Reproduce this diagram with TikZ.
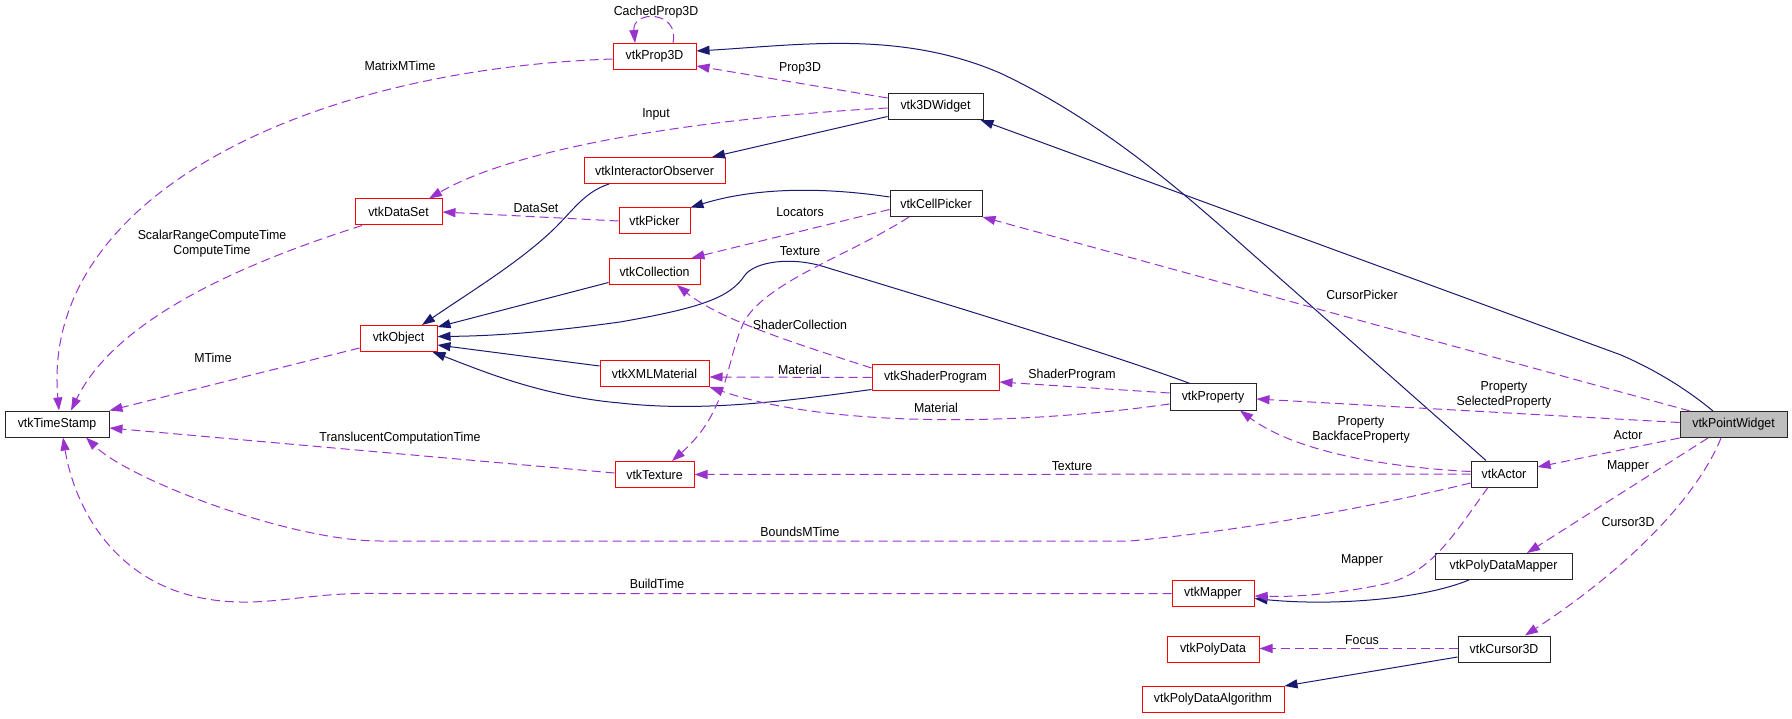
\documentclass[tikz,border=0pt]{standalone}
\usepackage{fontspec}
\setmainfont[FakeStretch=0.95]{Liberation Sans}
\usetikzlibrary{arrows.meta}
\definecolor{navyedge}{HTML}{191970}
\definecolor{orchidedge}{HTML}{9A32CD}
\definecolor{boxgray}{HTML}{BFBFBF}
\tikzset{
  cls/.style={draw, line width=1pt, minimum height=26pt, inner sep=0pt, font=\fontsize{13}{15}\selectfont, fill=white},
  redcls/.style={cls, draw=red},
  blkcls/.style={cls, draw=black!85},
  inh/.style={draw=navyedge, line width=1pt, -{Triangle[length=13pt,width=9pt]}},
  use/.style={draw=orchidedge, line width=1pt, dash pattern=on 9pt off 5pt, -{Triangle[length=13pt,width=9pt]}},
  lab/.style={font=\fontsize{13}{15}\selectfont, inner sep=0pt, align=center},
}
\begin{document}
\begin{tikzpicture}[x=1pt,y=-1pt]
\useasboundingbox (0,0) rectangle (1792,719);
% nodes
\node[redcls, minimum width=83pt] (prop3d) at (654.5,56.5) {vtkProp3D};
\node[blkcls, minimum width=95pt] (w3d) at (935.5,106.5) {vtk3DWidget};
\node[redcls, minimum width=141pt] (iobs) at (654.5,170.5) {vtkInteractorObserver};
\node[redcls, minimum width=71pt] (picker) at (654.5,221) {vtkPicker};
\node[blkcls, minimum width=92pt] (cp) at (936,203.5) {vtkCellPicker};
\node[redcls, minimum width=87pt] (dataset) at (398.5,212) {vtkDataSet};
\node[redcls, minimum width=77pt] (object) at (398.5,338.5) {vtkObject};
\node[blkcls, minimum width=104pt] (ts) at (57,424) {vtkTimeStamp};
\node[redcls, minimum width=91pt] (coll) at (654.5,271.5) {vtkCollection};
\node[redcls, minimum width=109pt] (xml) at (654.5,373.5) {vtkXMLMaterial};
\node[redcls, minimum width=127pt] (sp) at (935.5,377.5) {vtkShaderProgram};
\node[redcls, minimum width=79pt] (tex) at (654.5,474.5) {vtkTexture};
\node[blkcls, minimum width=86pt] (prop) at (1213,397) {vtkProperty};
\node[blkcls, fill=boxgray, minimum width=107pt] (pw) at (1733.5,424.5) {vtkPointWidget};
\node[blkcls, minimum width=66pt] (actor) at (1504,474) {vtkActor};
\node[blkcls, minimum width=137pt] (pdm) at (1503.5,566.5) {vtkPolyDataMapper};
\node[redcls, minimum width=82pt] (mapper) at (1213,593.5) {vtkMapper};
\node[redcls, minimum width=92pt] (pd) at (1213,649) {vtkPolyData};
\node[blkcls, minimum width=92pt] (cur) at (1504,649) {vtkCursor3D};
\node[redcls, minimum width=142pt] (pda) at (1213,699.5) {vtkPolyDataAlgorithm};
% inheritance edges
\draw[inh] ([xshift=-20.5pt]pw.north) .. controls (1690,392) and (1660,372) .. (1621,355) -- ([xshift=-3pt]w3d.south east);
\draw[inh] ([xshift=-18pt]actor.north) -- (1240,243) .. controls (1180,190) and (1100,120) .. (1000,73) .. controls (900,30) and (800,45) .. ([yshift=5.5pt]prop3d.east);
\draw[inh] ([yshift=-10pt]w3d.west) -- ([xshift=57.5pt]iobs.north);
\draw[inh] ([xshift=-45.5pt]iobs.south) .. controls (585,192) and (575,208) .. (555,228) .. controls (520,262) and (470,292) .. ([xshift=23.5pt]object.north);
\draw[inh] ([yshift=6.5pt]cp.west) .. controls (830,188) and (760,186) .. (picker.north east);
\draw[inh] ([yshift=2.5pt]coll.south west) -- ([yshift=-2pt]object.north east);
\draw[inh] ([xshift=-23pt]prop.north) .. controls (1100,350) and (900,290) .. (825,267) .. controls (790,256) and (755,262) .. (745,275) .. controls (730,298) and (700,308) .. (620,322) .. controls (540,333) and (490,336) .. ([yshift=2pt]object.east);
\draw[inh] ([yshift=7.5pt]xml.west) -- ([yshift=-6.5pt]object.east);
\draw[inh] ([yshift=1.5pt]sp.south west) .. controls (780,402) and (700,412) .. (620,403) .. controls (540,396) and (480,370) .. ([xshift=-5pt]object.south east);
\draw[inh] ([yshift=-8pt]cur.west) -- (pda.north east);
\draw[inh] ([xshift=-34.5pt]pdm.south) .. controls (1420,600) and (1330,606) .. ([yshift=-5pt]mapper.east);
% usage edges
\draw[use] ([xshift=18.5pt]prop3d.north) .. controls (680,10) and (632,10) .. ([xshift=-19.5pt]prop3d.north);
\draw[use] ([yshift=8.5pt]w3d.west) -- ([yshift=-9.5pt]prop3d.east);
\draw[use] ([yshift=-1.5pt]w3d.west) .. controls (750,115) and (530,140) .. ([xshift=30.5pt]dataset.north);
\draw[use] ([yshift=-2.5pt]prop3d.west) .. controls (300,70) and (40,200) .. ([xshift=2pt]ts.north);
\draw[use] ([xshift=-36.5pt]dataset.south) .. controls (270,255) and (120,310) .. ([xshift=14pt]ts.north);
\draw[use] ([yshift=-9.5pt]object.west) -- (ts.north east);
\draw[use] ([yshift=1.5pt]tex.west) -- ([yshift=-4pt]ts.east);
\draw[use] ([yshift=-9pt]actor.west) .. controls (1380,505) and (1250,530) .. (1130,541) -- (380,541) .. controls (290,541) and (130,480) .. ([xshift=29pt]ts.south);
\draw[use] (mapper.west) -- (380,593.5) .. controls (320,592) and (280,603) .. (240,602) .. controls (120,600) and (75,510) .. ([xshift=6pt]ts.south);
\draw[use] (picker.west) -- (dataset.east);
\draw[use] ([yshift=-6pt]cp.west) -- ([xshift=-9pt]coll.north east);
\draw[use] (actor.west) -- (tex.east);
\draw[use] ([xshift=-27pt]cp.south) .. controls (850,255) and (770,280) .. (745,320) .. controls (725,360) and (730,410) .. ([xshift=17.5pt]tex.north);
\draw[use] ([yshift=9.5pt]sp.west) .. controls (800,345) and (720,320) .. ([xshift=22.5pt]coll.south);
\draw[use] (sp.west) -- ([yshift=-3.5pt]xml.east);
\draw[use] ([yshift=4pt]prop.west) -- ([yshift=-4.5pt]sp.east);
\draw[use] ([yshift=-7pt]prop.west) .. controls (1000,428) and (820,425) .. (xml.south east);
\draw[use] ([xshift=-43.5pt]pw.north) -- (cp.south east);
\draw[use] ([yshift=2pt]pw.west) -- ([yshift=-2pt]prop.east);
\draw[use] ([yshift=2.5pt]actor.west) .. controls (1400,468) and (1300,455) .. ([xshift=27pt]prop.south);
\draw[use] (pw.south west) -- ([yshift=7pt]actor.east);
\draw[use] ([xshift=-25.5pt]pw.south) -- ([xshift=23.5pt]pdm.north);
\draw[use] ([xshift=-12.5pt]pw.south) .. controls (1700,490) and (1640,560) .. ([xshift=21pt]cur.north);
\draw[use] ([xshift=-16pt]actor.south) .. controls (1450,540) and (1430,575) .. (1380,585) .. controls (1330,595) and (1290,597) .. ([yshift=-2.5pt]mapper.east);
\draw[use] ([yshift=0.5pt]cur.west) -- ([yshift=0.5pt]pd.east);
% labels
\node[lab] (l1) at (656,12) {CachedProp3D};
\node[lab] (l2) at (400,66) {MatrixMTime};
\node[lab] (l3) at (800,68) {Prop3D};
\node[lab] (l4) at (656,114) {Input};
\node[lab] (l5) at (536,208) {DataSet};
\node[lab] (l6) at (800,212) {Locators};
\node[lab] (l7) at (800,251) {Texture};
\node[lab] (l8) at (212,244) {ScalarRangeComputeTime\\ComputeTime};
\node[lab] (l9) at (1362,295) {CursorPicker};
\node[lab] (l10) at (800,325) {ShaderCollection};
\node[lab] (l11) at (213,358) {MTime};
\node[lab] (l12) at (800,370) {Material};
\node[lab] (l13) at (1072,375) {ShaderProgram};
\node[lab] (l14) at (936,408) {Material};
\node[lab] (l15) at (1504,395) {Property\\SelectedProperty};
\node[lab] (l16) at (1628,435) {Actor};
\node[lab] (l17) at (1361,430) {Property\\BackfaceProperty};
\node[lab] (l18) at (400,438) {TranslucentComputationTime};
\node[lab] (l19) at (1072,466) {Texture};
\node[lab] (l20) at (1628,466) {Mapper};
\node[lab] (l21) at (1628,522) {Cursor3D};
\node[lab] (l22) at (800,532) {BoundsMTime};
\node[lab] (l23) at (1362,560) {Mapper};
\node[lab] (l24) at (657,584) {BuildTime};
\node[lab] (l25) at (1362,640) {Focus};
\end{tikzpicture}
\end{document}
